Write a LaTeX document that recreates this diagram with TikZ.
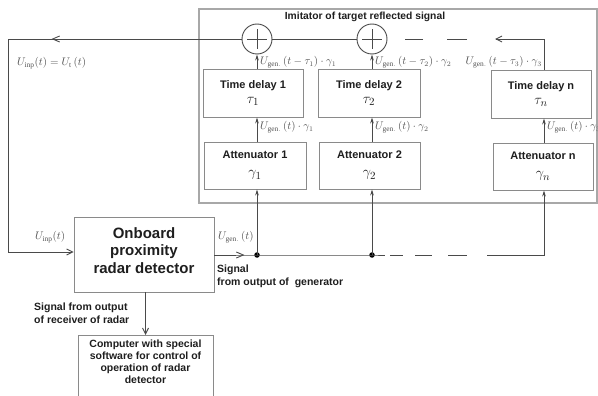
\documentclass[tikz,border=0pt]{standalone}
\usepackage{fontspec}
\setsansfont{Liberation Sans}
\setmainfont{Liberation Serif}
\usetikzlibrary{arrows.meta,decorations.markings}
\definecolor{boxc}{HTML}{8A8A8A}
\definecolor{framec}{HTML}{A8A8A8}
\definecolor{linec}{HTML}{4A4A4A}
\definecolor{txt}{HTML}{1E1E1E}
\definecolor{mathc}{HTML}{505050}
\tikzset{
  blk/.style={draw=boxc, line width=0.9pt, rectangle, inner sep=2pt, align=center, text=txt,
     font=\fontsize{11}{13}\selectfont\sffamily\bfseries},
  conn/.style={draw=linec, line width=0.9pt},
  up/.style={-{Stealth[length=6pt,width=3.6pt]}},
  barb/.style={-{Straight Barb[length=6pt,width=6pt]}},
  arrowat/.style={postaction={decorate},decoration={markings,
     mark=at position #1 with {\arrow{Straight Barb[length=7pt,width=6pt]}}}},
  sumn/.style={circle, draw=linec, line width=0.9pt, minimum size=30pt, inner sep=0pt},
  lab/.style={text=mathc, inner sep=0pt, font=\fontsize{10.6}{12}\selectfont},
  blab/.style={text=txt, inner sep=0pt, align=left, font=\fontsize{10.5}{12.3}\selectfont\sffamily\bfseries},
  dotn/.style={circle, fill=black, minimum size=5.5pt, inner sep=0pt}
}
\newcommand{\bigsym}[1]{{\fontsize{15}{15}\selectfont$#1$}}
\begin{document}
\begin{tikzpicture}[x=1pt,y=-1pt]
\useasboundingbox (0,0) rectangle (598,396);
% imitator frame
\draw[draw=framec, line width=1.4pt] (199,9) rectangle (597,203);
\node[blab, font=\fontsize{10.3}{11}\selectfont\sffamily\bfseries] (title) at (365,17) {Imitator of target reflected signal};
% summers
\node[sumn] (s1) at (257,39) {};
\node[sumn] (s2) at (372,39) {};
\foreach \s in {s1,s2}{
  \draw[conn] ([xshift=-10pt]\s.center) -- ([xshift=10pt]\s.center);
  \draw[conn] ([yshift=-10pt]\s.center) -- ([yshift=10pt]\s.center);
}
% time delays
\node[blk, minimum width=100pt, minimum height=48pt] (td1) at (253,93) {Time delay 1\\[2pt]\bigsym{\tau_1}};
\node[blk, minimum width=102pt, minimum height=48pt] (td2) at (369,93) {Time delay 2\\[2pt]\bigsym{\tau_2}};
\node[blk, minimum width=100pt, minimum height=48pt] (tdn) at (541,94) {Time delay n\\[2pt]\bigsym{\tau_n}};
% attenuators
\node[blk, minimum width=102pt, minimum height=47pt] (at1) at (255,165.5) {Attenuator 1\\[5pt]\bigsym{\gamma_1}};
\node[blk, minimum width=101pt, minimum height=47pt] (at2) at (369.5,165.5) {Attenuator 2\\[5pt]\bigsym{\gamma_2}};
\node[blk, minimum width=100pt, minimum height=47pt] (atn) at (543,166.5) {Attenuator n\\[5pt]\bigsym{\gamma_n}};
% onboard detector
\node[blk, minimum width=140pt, minimum height=75pt, font=\fontsize{15}{17.5}\selectfont\sffamily\bfseries] (ob) at (144,254.5) {Onboard\\proximity\\radar detector\\[-9pt]\mbox{}};
% computer
\node[blk, anchor=north, minimum width=135pt, inner sep=4pt, text depth=40pt, font=\fontsize{10.5}{12.3}\selectfont\sffamily\bfseries] (pc) at (145.5,335) {Computer with special\\software for control of\\operation of radar\\detector};
% junctions
\node[dotn] (j1) at (257,255) {};
\node[dotn] (j2) at (372,255) {};
\coordinate (cn) at (544,39);
\coordinate (bn) at (544,255);
% output of generator
\draw[conn, arrowat=30pt] (ob.east |- j1) -- (j1.center) -- (j2.center) -- (385,255);
\draw[conn] (390,255) -- (403,255);
\draw[conn] (415,255) -- (432,255);
\draw[conn] (448,255) -- (467,255);
\draw[conn, up] (487,255) -- (bn) -- (atn.south -| bn);
\draw[conn, up] (j1.center) -- (at1.south -| j1);
\draw[conn, up] (j2.center) -- (at2.south -| j2);
% attenuator -> delay
\draw[conn, up] (at1.north -| j1) -- (td1.south -| j1);
\draw[conn, up] (at2.north -| j2) -- (td2.south -| j2);
\draw[conn, up] (atn.north -| bn) -- (tdn.south -| bn);
% delay -> summer
\draw[conn, up] (td1.north -| s1) -- (s1.south);
\draw[conn, up] (td2.north -| s2) -- (s2.south);
\draw[conn, barb] (tdn.north -| cn) -- (cn) -- (495,39);
\draw[conn] (467,39) -- (447,39);
\draw[conn] (423,39) -- (405,39);
\draw[conn] (s2.west) -- (s1.east);
% feedback
\draw[conn, barb, arrowat=190pt] (s1.west) -- (8,39) -- (8,252) -- (ob.west |- 0,252);
% to computer
\draw[conn, barb] (ob.south -| pc) -- (pc.north);
% labels
\node[lab, anchor=west] (l1) at (260,62) {$U_{\mathrm{gen.}}\,(t-\tau_1)\cdot\gamma_1$};
\node[lab, anchor=west] (l2) at (375,62) {$U_{\mathrm{gen.}}\,(t-\tau_2)\cdot\gamma_2$};
\node[lab, anchor=east] (l3) at (542,62) {$U_{\mathrm{gen.}}\,(t-\tau_3)\cdot\gamma_3$};
\node[lab, anchor=west] (m1) at (260,127) {$U_{\mathrm{gen.}}\,(t)\cdot\gamma_1$};
\node[lab, anchor=west] (m2) at (375,127) {$U_{\mathrm{gen.}}\,(t)\cdot\gamma_2$};
\node[lab, anchor=west] (m3) at (547,127) {$U_{\mathrm{gen.}}\,(t)\cdot\gamma_3$};
\node[lab, anchor=west] (i1) at (17,63) {$U_{\mathrm{inp}}(t)=U_{\mathrm{t}}\,(t)$};
\node[lab, anchor=west] (i2) at (35,237) {$U_{\mathrm{inp}}(t)$};
\node[lab, anchor=west] (g1) at (218,237) {$U_{\mathrm{gen.}}\,(t)$};
\node[blab, anchor=north west] (sg) at (217,265) {Signal\\from output of\ \ generator};
\node[blab, anchor=north west] (rc) at (34,303) {Signal from output\\of receiver of radar};
\end{tikzpicture}
\end{document}
